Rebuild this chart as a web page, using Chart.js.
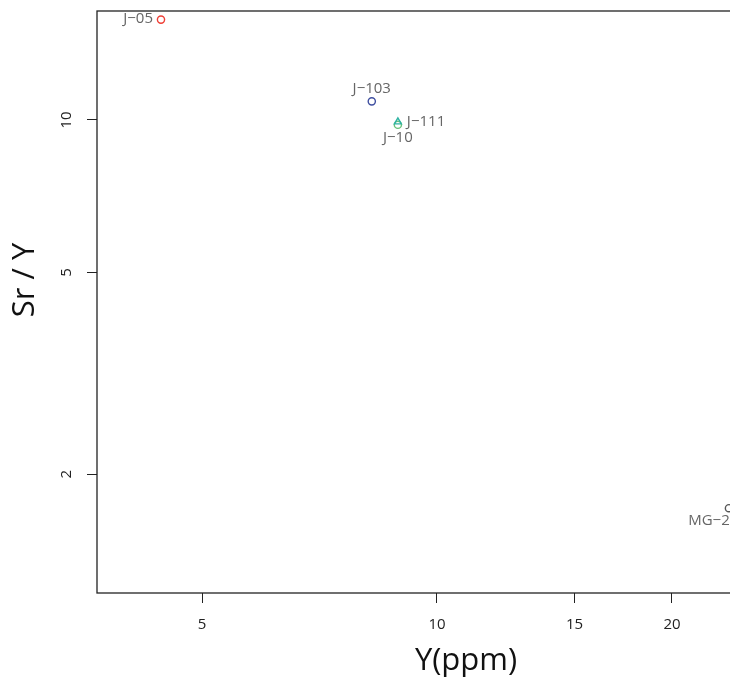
<!DOCTYPE html>
<html>
<head>
<meta charset="utf-8">
<script src="https://cdn.jsdelivr.net/npm/chart.js@4/dist/chart.umd.min.js"></script>
<style>
  html, body { margin: 0; padding: 0; background: #fff; overflow: hidden; width: 730px; height: 681px; }
  #wrap { position: relative; width: 800px; height: 681px; }
</style>
</head>
<body>
<div id="wrap"><canvas id="grafico"></canvas></div>
<script>
// sample names, Y (ppm) and Sr/Y
var amostras = ['J\u221205', 'J\u2212103', 'J\u2212111', 'J\u221210', 'MG\u22122'];
var yPpm     = [4.43, 8.25, 8.91, 8.91, 23.66];
var srY      = [15.77, 10.88, 9.91, 9.78, 1.714];
var cores    = ['#ef3f36', '#3f4fa0', '#2fb3a3', '#69c27a', '#555555'];
var formas   = ['circle', 'circle', 'triangle', 'circle', 'circle'];

var ticksX = [5, 10, 15, 20];
var ticksY = [2, 5, 10];

// where each label sits relative to its point
var posRotulo = ['left', 'above', 'right', 'below', 'below'];
var desvioRotulo = [0, 0, 0, 0, -20];

var datasets = [];
for (var i = 0; i < amostras.length; i++) {
    datasets.push({
        label: amostras[i],
        data: [{ x: yPpm[i], y: srY[i] }],
        borderColor: cores[i],
        backgroundColor: 'rgba(0,0,0,0)',
        pointStyle: formas[i],
        pointRadius: formas[i] == 'triangle' ? 4 : 3.6,
        pointBorderWidth: 1.4,
        pointHoverRadius: 3.6
    });
}

var molduraEtextos = {
    id: 'molduraEtextos',
    afterDraw: function (chart) {
        var ctx = chart.ctx;
        var a = chart.chartArea;
        ctx.save();
        // frame
        ctx.strokeStyle = '#222';
        ctx.lineWidth = 1.3;
        ctx.strokeRect(a.left, a.top, a.right - a.left, a.bottom - a.top);

        // rotated y tick labels
        var ys = chart.scales.y;
        ctx.fillStyle = '#222';
        ctx.font = '15px "Open Sans"';
        ctx.textAlign = 'center';
        ctx.textBaseline = 'middle';
        for (var k = 0; k < ticksY.length; k++) {
            var py = ys.getPixelForValue(ticksY[k]);
            ctx.save();
            ctx.translate(67, py);
            ctx.rotate(-Math.PI / 2);
            ctx.fillText(String(ticksY[k]), 0, 0);
            ctx.restore();
        }

        // axis titles
        ctx.fillStyle = '#111';
        ctx.font = '31px "Open Sans"';
        ctx.fillText('Y(ppm)', 466, 661);
        ctx.save();
        ctx.translate(25, 280);
        ctx.rotate(-Math.PI / 2);
        ctx.fillText('Sr / Y', 0, 0);
        ctx.restore();

        // point labels
        ctx.fillStyle = '#666';
        ctx.font = '15px "Open Sans"';
        for (var d = 0; d < chart.data.datasets.length; d++) {
            var el = chart.getDatasetMeta(d).data[0];
            var x = el.x + desvioRotulo[d], y = el.y;
            var pos = posRotulo[d];
            ctx.textBaseline = 'middle';
            if (pos == 'left') { ctx.textAlign = 'right'; ctx.fillText(amostras[d], x - 8, y - 1); }
            else if (pos == 'right') { ctx.textAlign = 'left'; ctx.fillText(amostras[d], x + 9, y); }
            else if (pos == 'above') { ctx.textAlign = 'center'; ctx.fillText(amostras[d], x, y - 13); }
            else { ctx.textAlign = 'center'; ctx.fillText(amostras[d], x, y + 13); }
        }
        ctx.restore();
    }
};

new Chart(document.getElementById('grafico'), {
    type: 'scatter',
    data: { datasets: datasets },
    options: {
        responsive: true,
        maintainAspectRatio: false,
        animation: false,
        layout: { padding: { left: 0, top: 11, right: 45, bottom: 0 } },
        plugins: {
            legend: { display: false },
            tooltip: { enabled: false }
        },
        scales: {
            x: {
                type: 'logarithmic',
                min: 3.668,
                max: 25.55,
                afterBuildTicks: function (s) { s.ticks = ticksX.map(function (v) { return { value: v }; }); },
                afterFit: function (s) { s.height = 88; },
                ticks: {
                    color: '#222',
                    font: { family: 'Open Sans', size: 15 },
                    padding: 13,
                    maxRotation: 0,
                    autoSkip: false,
                    callback: function (v) { return String(v); }
                },
                grid: { drawOnChartArea: false, drawTicks: true, tickLength: 10, color: '#222', lineWidth: 1 },
                border: { display: false }
            },
            y: {
                type: 'logarithmic',
                min: 1.166,
                max: 16.40,
                afterBuildTicks: function (s) { s.ticks = ticksY.map(function (v) { return { value: v }; }); },
                afterFit: function (s) { s.width = 97; },
                ticks: { display: false },
                grid: { drawOnChartArea: false, drawTicks: true, tickLength: 10, color: '#222', lineWidth: 1 },
                border: { display: false }
            }
        }
    },
    plugins: [molduraEtextos]
});
</script>
</body>
</html>
